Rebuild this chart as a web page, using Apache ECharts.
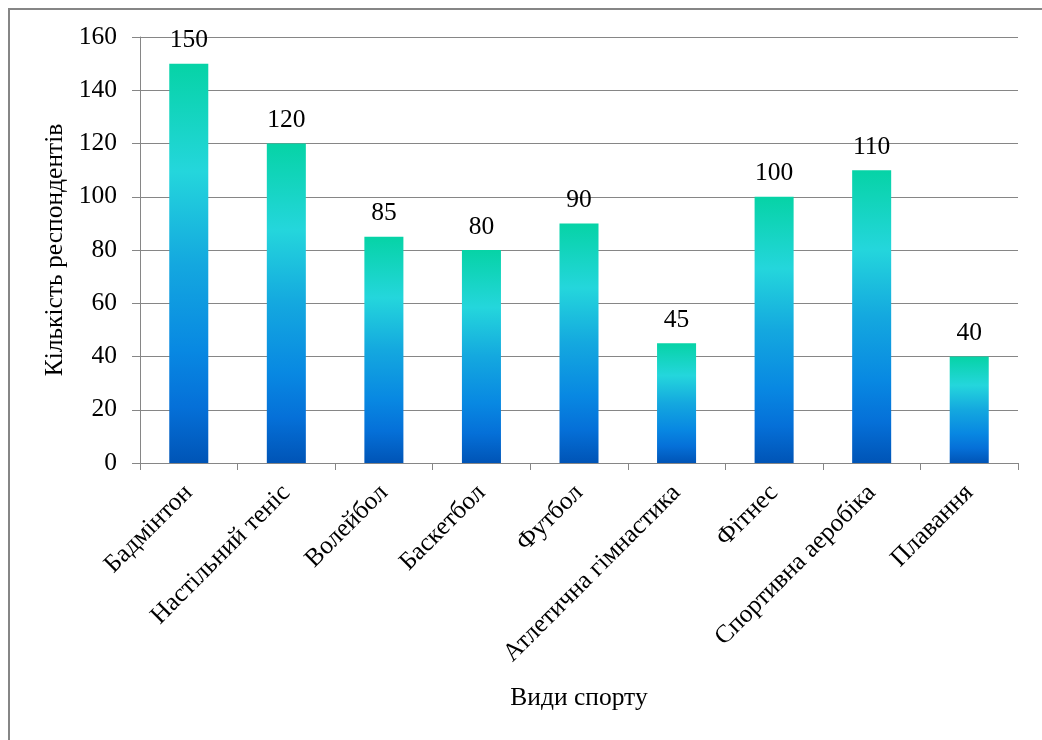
<!DOCTYPE html>
<html>
<head>
<meta charset="utf-8">
<script src="https://cdn.jsdelivr.net/npm/echarts@6/dist/echarts.min.js"></script>
<style>
html,body{margin:0;padding:0;background:#fff;}
#chart{width:1042px;height:740px;}
</style>
</head>
<body>
<div id="chart"></div>
<script>
const categories = ['Бадмінтон','Настільний теніс','Волейбол','Баскетбол','Футбол','Атлетична гімнастика','Фітнес','Спортивна аеробіка','Плавання'];
const values = [150,120,85,80,90,45,100,110,40];
const yTicks = {min:0, max:160, interval:20};
const xName = 'Види спорту';
const yName = 'Кількість респондентів';

const FONT = '"Liberation Serif","Times New Roman",serif';
const FS = 25.5;
const chart = echarts.init(document.getElementById('chart'));
chart.setOption({
  backgroundColor:'#fff',
  animation:false,
  graphic:[{type:'rect',shape:{x:9,y:9,width:1100,height:800},style:{fill:'none',stroke:'#868686',lineWidth:2},silent:true,z:100}],
  grid:{left:140,right:24,top:37,bottom:277,containLabel:false},
  xAxis:{
    type:'category',data:categories,
    name:xName,nameLocation:'middle',nameGap:222,
    nameTextStyle:{fontFamily:FONT,fontSize:FS,color:'#000'},
    axisLine:{lineStyle:{color:'#868686',width:1}},
    axisTick:{show:true,length:7,alignWithLabel:false,lineStyle:{color:'#868686'}},
    axisLabel:{rotate:45,margin:26,fontFamily:FONT,fontSize:FS,color:'#000',interval:0}
  },
  yAxis:{
    type:'value',min:yTicks.min,max:yTicks.max,interval:yTicks.interval,
    name:yName,nameLocation:'middle',nameGap:68,nameRotate:90,
    nameTextStyle:{fontFamily:FONT,fontSize:FS,color:'#000'},
    axisLine:{show:true,lineStyle:{color:'#868686',width:1}},
    axisTick:{show:true,length:8,lineStyle:{color:'#868686'}},
    axisLabel:{margin:23,fontFamily:FONT,fontSize:FS,color:'#000'},
    splitLine:{show:true,lineStyle:{color:'#868686',width:1}}
  },
  series:[{
    type:'bar',data:values,barWidth:'40%',
    itemStyle:{color:new echarts.graphic.LinearGradient(0,0,0,1,[
      {offset:0,color:'#06D3A6'},
      {offset:0.27,color:'#24D6DC'},
      {offset:0.5,color:'#14A8DF'},
      {offset:0.72,color:'#0888E2'},
      {offset:0.86,color:'#0570D8'},
      {offset:1,color:'#0054B6'}
    ])},
    label:{show:true,position:'top',distance:10,fontFamily:FONT,fontSize:FS,color:'#000'}
  }]
});
</script>
</body>
</html>
